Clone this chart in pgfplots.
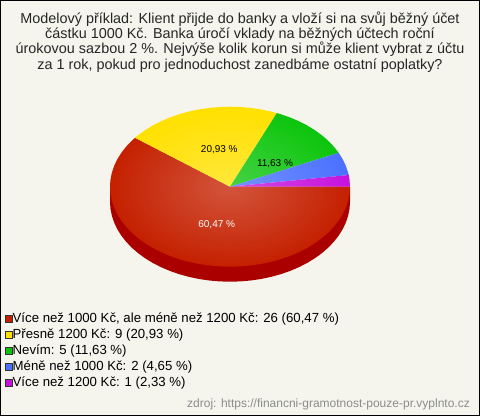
\documentclass[border=0pt]{standalone}
\usepackage{pgfplots}
\pgfplotsset{compat=1.18}
\usepackage{fontspec}
\setmainfont{Liberation Sans}
\definecolor{bgc}{RGB}{245,245,238}
\definecolor{cRed}{RGB}{196,32,0}
\definecolor{cYel}{RGB}{255,224,0}
\definecolor{cGre}{RGB}{12,196,12}
\definecolor{cBlu}{RGB}{74,112,255}
\definecolor{cMag}{RGB}{198,18,220}
\definecolor{cWall}{RGB}{170,0,0}
\definecolor{cSrc}{RGB}{140,140,140}
\begin{document}
\begin{tikzpicture}[x=1pt,y=1pt]
\fill[bgc] (0,0) rectangle (480,416);
\begin{axis}[
  at={(0pt,0pt)},anchor=south west,
  scale only axis,width=480pt,height=416pt,
  hide axis,clip=false,
  xmin=-1.91667,xmax=2.08333,
  ymin=-2.33375,ymax=2.86625,y dir=reverse,
  legend style={at={(0.0104,0.25)},anchor=north west,draw=none,fill=none,
    font={\fontsize{13.2}{14}\selectfont},inner sep=0pt,outer sep=0pt,
    /tikz/every even column/.style={column sep=2pt},
    nodes={inner sep=0pt,text height=10.5pt,text depth=3pt,yshift=0pt},
    row sep=2.45pt},
  legend cell align=left,
  legend image code/.code={\draw[draw=black!80,line width=.7pt,#1] (0pt,-3.5pt) rectangle (7pt,3.5pt);},
]
% side wall
\addplot[forget plot,fill=cWall,draw=none] coordinates {
(1,0)(1,.1875)(.9962,.2747)(.9848,.3611)(.9659,.4463)(.9397,.5295)(.9063,.6101)(.8660,.6875)(.8192,.7611)(.7660,.8303)(.7071,.8946)(.6428,.9535)(.5736,1.0067)(.5,1.0535)(.4226,1.0938)(.3420,1.1272)(.2588,1.1534)(.1736,1.1723)(.0872,1.1837)(0,1.1875)
(-.0872,1.1837)(-.1736,1.1723)(-.2588,1.1534)(-.3420,1.1272)(-.4226,1.0938)(-.5,1.0535)(-.5736,1.0067)(-.6428,.9535)(-.7071,.8946)(-.7660,.8303)(-.8192,.7611)(-.8660,.6875)(-.9063,.6101)(-.9397,.5295)(-.9659,.4463)(-.9848,.3611)(-.9962,.2747)(-1,.1875)(-1,0)} -- cycle;
% 26 votes, 60.47 %
\addplot[fill=cRed,draw=none] coordinates {
(0,0)(1,0)(.9962,.0872)(.9848,.1736)(.9659,.2588)(.9397,.3420)(.9063,.4226)(.8660,.5)(.8192,.5736)(.7660,.6428)(.7071,.7071)(.6428,.7660)(.5736,.8192)(.5,.8660)(.4226,.9063)(.3420,.9397)(.2588,.9659)(.1736,.9848)(.0872,.9962)(0,1)
(-.0872,.9962)(-.1736,.9848)(-.2588,.9659)(-.3420,.9397)(-.4226,.9063)(-.5,.8660)(-.5736,.8192)(-.6428,.7660)(-.7071,.7071)(-.7660,.6428)(-.8192,.5736)(-.8660,.5)(-.9063,.4226)(-.9397,.3420)(-.9659,.2588)(-.9848,.1736)(-.9962,.0872)(-1,0)
(-.9962,-.0872)(-.9848,-.1736)(-.9659,-.2588)(-.9397,-.3420)(-.9063,-.4226)(-.8660,-.5)(-.8192,-.5736)(-.7912,-.6115)} -- cycle;
\addlegendentry{Více než 1000 Kč, ale méně než 1200 Kč: 26 (60,47 \%)}
% 9 votes, 20.93 %
\addplot[fill=cYel,draw=none] coordinates {
(0,0)(-.7912,-.6115)(-.7660,-.6428)(-.7071,-.7071)(-.6428,-.7660)(-.5736,-.8192)(-.5,-.8660)(-.4226,-.9063)(-.3420,-.9397)(-.2588,-.9659)(-.1736,-.9848)(-.0872,-.9962)(0,-1)(.0872,-.9962)(.1736,-.9848)(.2588,-.9659)(.3420,-.9397)(.3907,-.9205)} -- cycle;
\addlegendentry{Přesně 1200 Kč: 9 (20,93 \%)}
% 5 votes, 11.63 %
\addplot[fill=cGre,draw=none] coordinates {
(0,0)(.3907,-.9205)(.4226,-.9063)(.5,-.8660)(.5736,-.8192)(.6428,-.7660)(.7071,-.7071)(.7660,-.6428)(.8192,-.5736)(.8660,-.5)(.9056,-.4242)} -- cycle;
\addlegendentry{Nevím: 5 (11,63 \%)}
% 2 votes, 4.65 %
\addplot[fill=cBlu,draw=none] coordinates {
(0,0)(.9056,-.4242)(.9397,-.3420)(.9659,-.2588)(.9848,-.1736)(.9893,-.1461)} -- cycle;
\addlegendentry{Méně než 1000 Kč: 2 (4,65 \%)}
% 1 vote, 2.33 %
\addplot[fill=cMag,draw=none] coordinates {
(0,0)(.9893,-.1461)(.9962,-.0872)(1,0)} -- cycle;
\addlegendentry{Více než 1200 Kč: 1 (2,33 \%)}
% radial highlight
\addplot[forget plot,draw=none,/tikz/blend mode=screen,/tikz/inner color={rgb,255:red,60;green,60;blue,60},/tikz/outer color=black] coordinates {
(1,0)(.9962,.0872)(.9848,.1736)(.9659,.2588)(.9397,.3420)(.9063,.4226)(.8660,.5)(.8192,.5736)(.7660,.6428)(.7071,.7071)(.6428,.7660)(.5736,.8192)(.5,.8660)(.4226,.9063)(.3420,.9397)(.2588,.9659)(.1736,.9848)(.0872,.9962)(0,1)
(-.0872,.9962)(-.1736,.9848)(-.2588,.9659)(-.3420,.9397)(-.4226,.9063)(-.5,.8660)(-.5736,.8192)(-.6428,.7660)(-.7071,.7071)(-.7660,.6428)(-.8192,.5736)(-.8660,.5)(-.9063,.4226)(-.9397,.3420)(-.9659,.2588)(-.9848,.1736)(-.9962,.0872)(-1,0)
(-.9962,-.0872)(-.9848,-.1736)(-.9659,-.2588)(-.9397,-.3420)(-.9063,-.4226)(-.8660,-.5)(-.8192,-.5736)(-.7660,-.6428)(-.7071,-.7071)(-.6428,-.7660)(-.5736,-.8192)(-.5,-.8660)(-.4226,-.9063)(-.3420,-.9397)(-.2588,-.9659)(-.1736,-.9848)(-.0872,-.9962)(0,-1)(.0872,-.9962)(.1736,-.9848)(.2588,-.9659)(.3420,-.9397)(.4226,-.9063)(.5,-.8660)(.5736,-.8192)(.6428,-.7660)(.7071,-.7071)(.7660,-.6428)(.8192,-.5736)(.8660,-.5)(.9063,-.4226)(.9397,-.3420)(.9659,-.2588)(.9848,-.1736)(.9962,-.0872)} -- cycle;
\end{axis}
\begin{scope}[shift={(0pt,416pt)}]
\node[font={\fontsize{14.4}{15.3}\selectfont},align=center,anchor=north,inner sep=0pt,text=black!85] at (240,-11.5)
{Modelový příklad: Klient přijde do banky a vloží si na svůj běžný účet\\
částku 1000 Kč. Banka úročí vklady na běžných účtech roční\\
úrokovou sazbou 2 \%. Nejvýše kolik korun si může klient vybrat z účtu\\
za 1 rok, pokud pro jednoduchost zanedbáme ostatní poplatky?};
\node[font={\fontsize{10}{12}\selectfont},text=white] at (216.7,-225) {60,47 \%};
\node[font={\fontsize{10}{12}\selectfont},text=black] at (219.3,-150) {20,93 \%};
\node[font={\fontsize{10}{12}\selectfont},text=black] at (275,-163.3) {11,63 \%};
\node[font={\fontsize{12}{14}\selectfont},text=cSrc,anchor=east,inner sep=0pt] at (470,-404) {zdroj: https://financni-gramotnost-pouze-pr.vyplnto.cz};
\draw[black,line width=1.2pt] (.6,-.6) rectangle (479.4,-415.4);
\end{scope}
\end{tikzpicture}
\end{document}
